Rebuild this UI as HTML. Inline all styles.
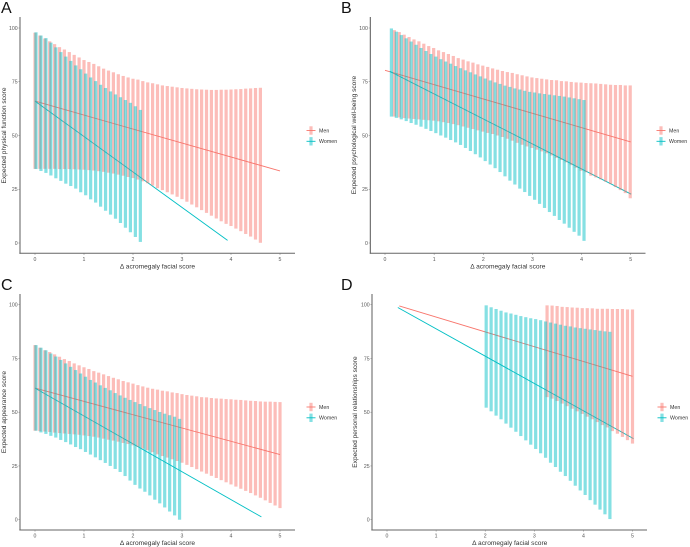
<!DOCTYPE html>
<html lang="en">
<head>
<meta charset="utf-8">
<title>Expected quality of life scores by acromegaly facial score</title>
<style>
html,body{margin:0;padding:0;background:#fff;width:690px;height:547px;overflow:hidden}
svg{display:block;font-family:"Liberation Sans",sans-serif;filter:blur(0.3px)}
</style>
</head>
<body>
<svg id="figure" xmlns="http://www.w3.org/2000/svg" width="690" height="547" viewBox="0 0 690 547"></svg>
<script>
const xTicks = [0, 1, 2, 3, 4, 5];
const yTicks = [0, 25, 50, 75, 100];
const seriesNames = ["Men", "Women"];

// Panel A
const aMenStart = 0, aMenEnd = 4.6, aWomenStart = 0.02, aWomenEnd = 2.15;
const aMenUpper = [97.8,96.5,95.1,93.8,92.5,91.1,90,88.8,87.5,86.3,85.1,84.2,83.3,82.2,81.1,80.2,79.4,78.5,77.7,77,76.4,76,75.3,74.7,74.3,73.8,73.3,73,72.7,72.4,72.1,71.9,71.7,71.5,71.4,71.3,71.2,71.2,71.3,71.3,71.4,71.5,71.6,71.8,71.9,72.1,72.2];
const aMenLower = [34.5,34.5,34.5,34.5,34.5,34.4,34.4,34.4,34.3,34.2,34.1,33.9,33.7,33.4,33.1,32.7,32.3,31.8,31.3,30.7,30.2,29.5,28.7,27.8,26.7,25.5,24.6,23.6,22.6,21.5,20.4,19.2,17.9,16.6,15.3,14,12.7,11.4,10.1,8.9,7.9,6.7,5.5,4.2,3,1.6,0.1];
const aWomenUpper = [98,96.5,95.3,93.2,91,88.8,86.7,84.7,82.6,80.8,78.8,77,75.3,73.6,72.1,70.5,69.1,67.8,66.5,65.2,63.6,61.9];
const aWomenLower = [34.4,33.5,32.6,31.4,30.1,28.9,27.6,26.5,25.3,23.6,22.2,20.3,18.8,16.9,15,13.2,11.3,9.3,7.1,5,2.8,0.5];
const aMenLineX = [0, 5], aMenLineY = [66, 33.5];
const aWomenLineX = [0, 3.93], aWomenLineY = [66, 1.2];

// Panel B
const bMenStart = 0.19, bMenEnd = 4.99, bWomenStart = 0.13, bWomenEnd = 4.05;
const bMenUpper = [99,98.1,96.9,95.8,94.7,93.8,92.7,91.6,90.7,89.6,88.8,87.9,87,86,85.3,84.5,83.9,83.1,82.5,81.9,81.2,80.6,80,79.5,79.1,78.5,78,77.5,77,76.7,76.4,76.1,75.8,75.7,75.3,75.2,74.9,74.7,74.6,74.4,74.3,74.2,74,73.8,73.6,73.5,73.5,73.3,73.3];
const bMenLower = [58.8,58.4,58.1,57.9,57.7,57.5,57.3,57.1,56.9,56.6,56.2,55.8,55.3,54.8,54.2,53.6,53,52.4,51.8,51.2,50.7,50,49.3,48.5,47.6,46.6,45.7,44.9,44.2,43.4,42.6,41.7,40.7,39.6,38.6,37.5,36.2,35,33.6,32.9,31.3,30.5,29.6,28.5,27.4,26,24.6,23.2,20.8];
const bWomenUpper = [99.8,98.3,96.7,95.2,93.7,92.2,90.7,89.3,87.9,86.7,85.5,84.4,83.4,82.3,81.3,80.3,79.4,78.4,77.5,76.5,75.6,74.7,74,73.2,72.6,71.9,71.4,70.8,70.3,70,69.6,69.3,69,68.7,68.4,68.1,67.7,67.3,66.9,66.5];
const bWomenLower = [58.8,58.2,57.5,56.7,55.8,55,54.1,53.1,52.1,51.1,50,49,47.9,46.8,45.6,44.2,42.8,41.3,39.8,38.1,36.5,34.8,33,31,29,27.2,25.3,23.7,21.9,20.1,18.2,16.3,14.4,12.6,10.7,9,7.1,5.2,3.4,1];
const bMenLineX = [0, 5], bMenLineY = [80.3, 47];
const bWomenLineX = [0.1, 5.01], bWomenLineY = [79.8, 22.7];

// Panel C
const cMenStart = 0, cMenEnd = 5, cWomenStart = 0.02, cWomenEnd = 2.95;
const cMenUpper = [81.2,80,78.8,78,76.9,75.8,74.7,73.8,72.7,71.8,70.9,70.1,69.1,68.4,67.6,66.8,66,65.3,64.5,63.9,63.3,62.6,62,61.4,60.9,60.5,60,59.7,59.2,58.9,58.4,58,57.7,57.4,57,56.9,56.6,56.4,56.3,56.1,56,55.8,55.7,55.5,55.3,55.2,55,54.9,54.9,54.8,54.7];
const cMenLower = [41.4,41.2,41,40.8,40.5,40.3,40.1,39.9,39.7,39.5,39.2,38.9,38.6,38.2,37.7,37.2,36.8,36.3,35.7,35.2,34.6,33.9,33.1,32.3,31.4,30.4,29.6,28.9,28.1,27.3,26.5,25.5,24.5,23.5,22.4,21.4,20.4,19.4,18.4,17.4,16.4,15.4,14.4,13.4,12.4,11.3,10.2,9,7.8,6.6,5.4];
const cWomenUpper = [81.2,80,78.8,77.3,75.9,74.3,72.7,71.1,69.6,68,66.5,65,63.8,62.5,61.3,60.2,58.9,57.8,56.7,55.7,54.7,53.8,52.8,51.9,51,50.1,49.3,48.6,47.9,46.9];
const cWomenLower = [41.4,40.6,39.9,39,38.2,37.1,36.1,35,33.8,32.8,31.5,30.3,29,27.7,26.4,25,23.6,22.2,20.3,18.2,16.2,14.5,13,11.3,9.3,7.6,5.7,3.8,2,0];
const cMenLineX = [0, 5], cMenLineY = [61.2, 30.3];
const cWomenLineX = [0, 4.62], cWomenLineY = [61.2, 1.3];

// Panel D
const dMenStart = 3.26, dMenEnd = 5, dWomenStart = 2.02, dWomenEnd = 4.54;
const dMenUpper = [99.7,99.6,99.4,99,98.9,98.7,98.6,98.4,98.4,98.3,98.1,98.1,98.1,98,98,98,97.8,97.8];
const dMenLower = [57,56.3,55.2,54,52.8,51.6,50.4,49.2,47.9,46.7,45.4,44,42.9,41.2,40,38.5,37,35.4];
const dWomenUpper = [99.7,98.8,98,97.2,96.4,95.9,95.3,94.7,94.2,93.7,93.3,92.8,92.2,91.7,91.2,90.7,90.2,89.9,89.4,89.1,88.8,88.5,88.2,87.9,87.6,87.4];
const dWomenLower = [52.1,50.4,48.4,46.7,44.7,42.8,40.9,38.9,36.9,34.9,32.9,30.9,28.8,26.5,24.5,22.3,20.3,18.1,15.8,13.6,11.5,9.1,7,4.7,2.5,0.3];
const dMenLineX = [0.25, 5], dMenLineY = [99.4, 66.7];
const dWomenLineX = [0.22, 5.02], dWomenLineY = [98.7, 37.7];

const NS = "http://www.w3.org/2000/svg";
const figure = document.getElementById("figure");
const MEN = "#F8766D", WOMEN = "#00BFC4";

function mk(parent, tag, attrs, text) {
  const el = document.createElementNS(NS, tag);
  for (const k in attrs) el.setAttribute(k, attrs[k]);
  if (text !== undefined) el.textContent = text;
  parent.appendChild(el);
  return el;
}

function drawBars(g, scaleX, scaleY, start, end, upper, lower, color, name) {
  const step = (end - start) / (upper.length - 1);
  upper.forEach(function (u, i) {
    const xv = start + i * step;
    const r = mk(g, "rect", {
      x: scaleX(xv) - 1.6,
      y: scaleY(u),
      width: 3.2,
      height: scaleY(lower[i]) - scaleY(u),
      fill: color,
      "fill-opacity": 0.48
    });
    
    
  });
}

function drawLine(g, scaleX, scaleY, xs, ys, color, name) {
  const l = mk(g, "line", {
    x1: scaleX(xs[0]), y1: scaleY(ys[0]),
    x2: scaleX(xs[1]), y2: scaleY(ys[1]),
    stroke: color, "stroke-width": 0.9
  });
  
  
}

function drawPanel(p) {
  const g = mk(figure, "g", {});
  
  

  const scaleX = function (v) { return p.x0 + (p.x5 - p.x0) * v / 5; };
  const scaleY = function (v) { return p.y0 + (p.y100 - p.y0) * v / 100; };

  const letter = mk(g, "text", { x: p.letterX, y: p.letterY, "font-size": 16, fill: "#111" }, p.letter);
  
  

  drawLine(g, scaleX, scaleY, p.menLineX, p.menLineY, MEN, p.id + '-men-line');
  drawLine(g, scaleX, scaleY, p.womenLineX, p.womenLineY, WOMEN, p.id + '-women-line');
  drawBars(g, scaleX, scaleY, p.menStart, p.menEnd, p.menUpper, p.menLower, MEN, p.id + '-men-interval');
  drawBars(g, scaleX, scaleY, p.womenStart, p.womenEnd, p.womenUpper, p.womenLower, WOMEN, p.id + '-women-interval');

  const yAxis = mk(g, "line", { x1: p.left, x2: p.left, y1: p.top, y2: p.bottom + 0.5, stroke: p.yAxisColor, "stroke-width": p.yAxisWidth });
  
  
  const xAxis = mk(g, "line", { x1: p.left - 0.5, x2: p.right, y1: p.bottom, y2: p.bottom, stroke: "#666", "stroke-width": 1 });
  
  

  xTicks.forEach(function (t) {
    mk(g, "line", { x1: scaleX(t), x2: scaleX(t), y1: p.bottom, y2: p.bottom + 1.6, stroke: "#777", "stroke-width": 0.5 });
    const lab = mk(g, "text", { x: scaleX(t), y: p.bottom + 7.6, "font-size": 5.2, fill: "#555", "text-anchor": "middle" }, String(t));
    
    
  });
  yTicks.forEach(function (t) {
    mk(g, "line", { x1: p.left - 1.6, x2: p.left, y1: scaleY(t), y2: scaleY(t), stroke: "#777", "stroke-width": 0.5 });
    const lab = mk(g, "text", { x: p.left - 2.4, y: scaleY(t) + 1.9, "font-size": 5.2, fill: "#555", "text-anchor": "end" }, String(t));
    
    
  });

  const xTitle = mk(g, "text", { x: (p.x0 + p.x5) / 2 + p.xTitleShift, y: p.bottom + 15, "font-size": 6.6, fill: "#333", "text-anchor": "middle" }, "\u0394 acromegaly facial score");
  
  
  const yTitle = mk(g, "text", { transform: "translate(" + p.yTitleX + "," + p.yTitleY + ") rotate(-90)", "font-size": 6.6, fill: "#333", "text-anchor": "middle" }, p.yTitle);
  
  

  seriesNames.forEach(function (n, i) {
    const color = i === 0 ? MEN : WOMEN;
    const cy = p.legendY + i * 10.8;
    const entry = mk(g, "g", {});
    
    
    mk(entry, "rect", { x: p.legendX - 1.6, y: cy - 4.2, width: 3.2, height: 8.4, fill: color, "fill-opacity": 0.48 });
    mk(entry, "line", { x1: p.legendX - 4.5, x2: p.legendX + 4.5, y1: cy, y2: cy, stroke: color, "stroke-width": 0.9 });
    mk(entry, "text", { x: p.legendX + 8, y: cy + 1.9, "font-size": 5.3, fill: "#333" }, n);
  });
}

drawPanel({
  id: "panel-a", letter: "A", letterX: 1, letterY: 13,
  left: 20, right: 295, top: 17, bottom: 253.3, x0: 35, x5: 280, y0: 243, y100: 28,
  yAxisColor: "#999", yAxisWidth: 1.6, xTitleShift: 0,
  yTitle: "Expected physical function score", yTitleX: 6, yTitleY: 135.5,
  legendX: 311, legendY: 130.5,
  menStart: aMenStart, menEnd: aMenEnd, menUpper: aMenUpper, menLower: aMenLower,
  womenStart: aWomenStart, womenEnd: aWomenEnd, womenUpper: aWomenUpper, womenLower: aWomenLower,
  menLineX: aMenLineX, menLineY: aMenLineY, womenLineX: aWomenLineX, womenLineY: aWomenLineY
});
drawPanel({
  id: "panel-b", letter: "B", letterX: 341, letterY: 13,
  left: 370.3, right: 645.5, top: 17, bottom: 253.3, x0: 385, x5: 630.7, y0: 243, y100: 28,
  yAxisColor: "#555", yAxisWidth: 1, xTitleShift: 0,
  yTitle: "Expected psychological well-being score", yTitleX: 356, yTitleY: 135,
  legendX: 661, legendY: 130.5,
  menStart: bMenStart, menEnd: bMenEnd, menUpper: bMenUpper, menLower: bMenLower,
  womenStart: bWomenStart, womenEnd: bWomenEnd, womenUpper: bWomenUpper, womenLower: bWomenLower,
  menLineX: bMenLineX, menLineY: bMenLineY, womenLineX: bWomenLineX, womenLineY: bWomenLineY
});
drawPanel({
  id: "panel-c", letter: "C", letterX: 1, letterY: 290,
  left: 20, right: 295, top: 294, bottom: 530, x0: 35, x5: 280, y0: 519.7, y100: 304.7,
  yAxisColor: "#999", yAxisWidth: 1.6, xTitleShift: 0,
  yTitle: "Expected appearance score", yTitleX: 6, yTitleY: 412,
  legendX: 311, legendY: 407,
  menStart: cMenStart, menEnd: cMenEnd, menUpper: cMenUpper, menLower: cMenLower,
  womenStart: cWomenStart, womenEnd: cWomenEnd, womenUpper: cWomenUpper, womenLower: cWomenLower,
  menLineX: cMenLineX, menLineY: cMenLineY, womenLineX: cWomenLineX, womenLineY: cWomenLineY
});
drawPanel({
  id: "panel-d", letter: "D", letterX: 341, letterY: 290,
  left: 372, right: 647, top: 294, bottom: 530, x0: 387, x5: 632.5, y0: 519.7, y100: 304.7,
  yAxisColor: "#999", yAxisWidth: 1.6, xTitleShift: 0,
  yTitle: "Expected personal relationships score", yTitleX: 357, yTitleY: 412,
  legendX: 662, legendY: 407,
  menStart: dMenStart, menEnd: dMenEnd, menUpper: dMenUpper, menLower: dMenLower,
  womenStart: dWomenStart, womenEnd: dWomenEnd, womenUpper: dWomenUpper, womenLower: dWomenLower,
  menLineX: dMenLineX, menLineY: dMenLineY, womenLineX: dWomenLineX, womenLineY: dWomenLineY
});
</script>
</body>
</html>
